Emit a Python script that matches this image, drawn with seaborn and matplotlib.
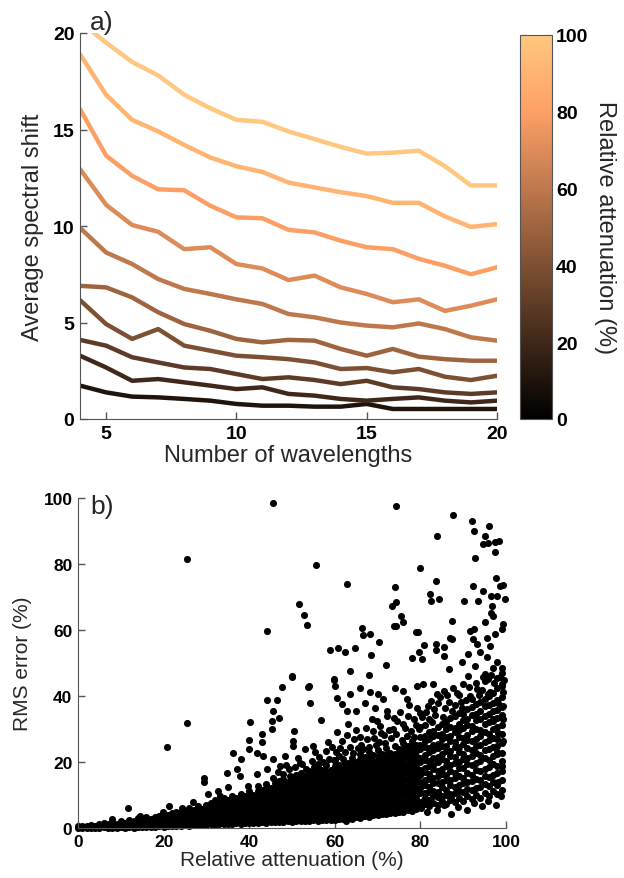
import numpy as np
import pandas as pd
import matplotlib
matplotlib.use("Agg")
import matplotlib.pyplot as plt
import seaborn as sns
from matplotlib.cm import ScalarMappable
from matplotlib.colors import Normalize

# ---- panel a) average spectral shift vs number of wavelengths ----
wavelengths = list(range(4, 21))
attenuation = [10, 20, 30, 40, 50, 60, 70, 80, 90, 100]
shift_10 = [1.73, 1.38, 1.16, 1.12, 1.04, 0.95, 0.78, 0.69, 0.69, 0.64, 0.64, 0.78, 0.52, 0.52, 0.52, 0.52, 0.52]
shift_20 = [3.28, 2.67, 1.98, 2.07, 1.9, 1.73, 1.55, 1.64, 1.3, 1.21, 1.04, 0.95, 1.04, 1.12, 0.95, 0.86, 0.95]
shift_30 = [4.1, 3.8, 3.2, 2.93, 2.67, 2.59, 2.33, 2.07, 2.16, 2.02, 1.81, 1.98, 1.64, 1.55, 1.38, 1.3, 1.38]
shift_40 = [6.16, 4.92, 4.15, 4.66, 3.8, 3.54, 3.28, 3.2, 3.1, 2.93, 2.59, 2.64, 2.42, 2.59, 2.19, 2.02, 2.24]
shift_50 = [6.9, 6.82, 6.3, 5.53, 4.92, 4.57, 4.15, 3.97, 4.1, 4.06, 3.63, 3.28, 3.63, 3.23, 3.1, 3.02, 3.02]
shift_60 = [9.9, 8.63, 8.03, 7.25, 6.74, 6.48, 6.2, 5.96, 5.44, 5.27, 5.0, 4.84, 4.75, 4.95, 4.66, 4.23, 4.06]
shift_70 = [12.95, 11.1, 10.05, 9.7, 8.8, 8.9, 8.03, 7.8, 7.2, 7.43, 6.82, 6.48, 6.05, 6.2, 5.6, 5.87, 6.2]
shift_80 = [16.06, 13.65, 12.6, 11.9, 11.85, 11.05, 10.45, 10.4, 9.8, 9.67, 9.24, 8.9, 8.8, 8.3, 7.94, 7.5, 7.86]
shift_90 = [18.9, 16.8, 15.5, 14.9, 14.2, 13.55, 13.1, 12.8, 12.25, 12.0, 11.75, 11.55, 11.2, 11.2, 10.5, 9.95, 10.1]
shift_100 = [20.6, 19.5, 18.5, 17.8, 16.8, 16.1, 15.5, 15.4, 14.9, 14.5, 14.1, 13.75, 13.8, 13.9, 13.1, 12.1, 12.1]
shifts = [shift_10, shift_20, shift_30, shift_40, shift_50,
          shift_60, shift_70, shift_80, shift_90, shift_100]

# ---- panel b) RMS error vs relative attenuation ----
outliers_high = [
    (45.6, 98.5), (25.5, 81.5), (55.6, 79.7), (44.2, 59.8), (51.6, 67.9), (52.8, 64.6), (53.5, 61.5), (50.1, 46.0),
    (74.3, 97.7), (87.5, 94.8), (92.1, 93.1), (96.0, 91.6), (92.6, 90.1), (95.2, 88.6), (83.8, 88.6), (94.7, 86.1),
    (95.9, 86.5), (97.4, 86.7), (98.4, 87.0), (97.4, 83.7), (92.8, 81.7), (79.9, 78.9), (62.8, 73.9), (83.6, 74.7),
    (74.1, 73.1), (97.6, 75.8), (92.2, 73.2), (94.7, 71.9), (98.6, 73.4), (99.2, 73.6), (82.2, 70.9), (82.4, 68.9),
    (84.3, 69.5), (90.3, 68.9), (93.5, 68.9), (96.5, 70.4), (97.8, 70.4), (99.8, 69.5), (73.3, 67.3), (74.3, 68.5),
    (75.5, 64.3), (76.0, 62.3), (73.8, 61.1), (74.2, 61.3), (87.3, 62.8), (96.7, 67.3), (96.4, 65.3), (96.9, 64.3),
    (95.2, 62.5), (99.4, 61.8), (99.0, 60.3), (66.3, 60.6), (66.6, 58.5), (68.2, 58.8), (70.4, 56.4), (78.9, 59.5),
    (79.4, 59.5), (80.8, 55.5), (83.6, 55.8), (85.4, 54.7), (86.8, 57.7), (87.4, 57.3), (91.6, 59.8), (92.5, 60.3),
    (92.4, 57.3), (93.3, 55.8), (95.6, 57.7), (97.4, 58.8), (96.3, 55.3), (58.9, 53.9), (60.7, 54.5), (62.3, 53.2),
    (64.8, 54.5), (68.5, 52.4), (72.0, 49.4), (63.6, 47.6), (67.9, 46.3), (49.9, 45.9), (59.9, 45.3), (78.1, 51.4),
    (80.4, 51.2), (79.6, 53.4), (83.6, 53.9), (85.4, 52.2), (86.6, 48.2), (89.7, 50.4), (91.2, 52.7), (93.9, 53.4),
    (95.5, 51.7), (97.8, 50.4), (99.0, 48.6), (99.0, 47.1), (97.0, 48.6), (91.2, 46.1), (95.1, 46.6), (92.8, 49.2),
]
outliers_mid = [
    (11.6, 6.1), (7.9, 2.7), (20.7, 24.6), (25.4, 31.7), (14.5, 3.7), (21.3, 6.7), (24.2, 6.2), (29.4, 15.3),
    (29.4, 13.8), (30.4, 10.3), (32.8, 11.3), (35.1, 12.3), (34.9, 16.8), (36.3, 22.6), (37.1, 17.9), (38.2, 20.9),
    (37.9, 15.8), (40.2, 32.0), (40.0, 26.7), (40.0, 23.9), (41.8, 22.7), (42.9, 26.0), (42.9, 28.5), (44.1, 38.9),
    (45.3, 30.0), (45.3, 32.5), (45.5, 35.5), (46.4, 38.9), (47.0, 33.2), (47.6, 42.6), (50.3, 26.4), (50.5, 29.4),
    (50.3, 24.9), (53.8, 42.6), (54.2, 38.0), (43.3, 21.9), (44.2, 17.9), (45.6, 20.9), (47.2, 18.8), (48.4, 21.9),
    (41.8, 16.4), (39.8, 12.8), (33.2, 9.8), (26.9, 7.8), (19.8, 4.7), (54.9, 24.9), (55.4, 22.9), (53.0, 23.9),
    (51.9, 19.8), (56.1, 19.4), (49.5, 15.8), (54.0, 42.9), (56.7, 32.7), (59.7, 44.9), (60.0, 43.1), (60.6, 39.5),
    (61.6, 37.6), (62.8, 35.5), (63.6, 40.6), (65.9, 42.3), (65.0, 35.5), (67.1, 38.0), (68.2, 41.1), (69.4, 36.5),
    (71.3, 39.2), (70.2, 40.6), (72.3, 35.5), (74.1, 42.3), (76.0, 41.6), (76.9, 39.1), (79.1, 43.1), (80.7, 43.6),
    (82.9, 43.6), (83.8, 40.6), (85.4, 41.6), (87.7, 42.3), (90.0, 43.6), (95.9, 45.2), (97.8, 45.6), (99.0, 43.6),
    (99.4, 41.1), (98.2, 38.0), (99.4, 37.0), (97.0, 33.0), (99.4, 33.0), (98.2, 28.9), (99.4, 26.4), (97.8, 22.9),
    (99.0, 18.9), (98.2, 13.8), (98.8, 9.8), (94.5, 6.8), (87.1, 4.2), (87.1, 9.2), (80.1, 6.2), (78.2, 5.8),
    (80.7, 8.3), (71.3, 4.7), (66.7, 3.7), (62.5, 2.2),
    (58.3, 26.2), (60.4, 29.1), (61.2, 24.3), (63.1, 31.4), (64.4, 27.0), (66.2, 25.3), (67.3, 30.2), (68.6, 33.1),
    (69.2, 27.4), (70.5, 31.0), (71.4, 28.3), (72.2, 34.0), (73.5, 30.1), (74.6, 32.4), (75.2, 35.3), (76.4, 30.2),
    (77.3, 37.2), (78.5, 33.1), (79.2, 36.3), (81.3, 35.2), (82.5, 38.6), (83.2, 36.1), (84.6, 39.8),
    (86.2, 40.2), (88.5, 40.8), (89.4, 38.2), (91.5, 40.1), (93.2, 42.0), (94.6, 45.8), (96.3, 41.2),
]
# loose points just above the dense band
band_fringe = [
    (45.5, 15.2), (46.8, 17.1), (47.9, 16.3), (48.6, 19.0), (49.3, 17.8), (50.8, 18.6), (51.5, 21.2), (52.4, 19.4),
    (53.3, 17.9), (54.6, 20.3), (55.1, 18.4), (56.4, 21.6), (57.2, 19.9), (57.9, 23.4), (58.7, 21.0), (59.3, 24.5),
    (59.8, 20.6), (60.2, 23.1), (60.9, 21.8), (61.7, 26.4), (62.3, 23.0), (62.9, 28.2), (63.6, 24.6), (64.2, 22.8),
    (64.9, 29.8), (65.4, 24.2), (65.8, 27.6), (66.7, 23.8), (67.5, 26.9), (68.1, 24.4), (68.9, 29.3), (69.6, 25.2),
    (69.9, 32.4), (70.3, 26.0), (70.9, 28.9), (71.8, 25.7), (72.6, 29.6), (73.1, 27.2), (73.9, 33.4), (74.3, 28.4),
    (75.7, 26.8), (75.9, 31.6), (76.8, 28.0), (77.2, 33.9), (77.8, 29.5), (78.4, 27.6), (78.9, 31.3), (79.6, 29.9),
    (79.8, 34.8), (80.4, 33.6), (81.1, 31.2), (81.8, 36.9), (82.7, 32.1), (83.5, 34.3), (84.1, 37.9), (85.3, 33.5),
    (85.8, 36.3), (86.6, 38.3), (87.4, 35.6), (88.2, 37.2), (89.1, 40.3), (89.8, 36.4), (90.6, 38.9), (91.3, 42.6),
    (92.1, 39.1), (92.9, 44.0), (93.6, 40.4), (94.3, 41.7), (95.2, 44.6), (95.8, 40.6), (96.6, 46.5), (97.3, 43.8),
    (98.5, 45.9), (99.6, 45.0),
    (81.5, 4.9), (83.9, 5.6), (85.6, 6.9), (88.9, 6.3), (90.8, 5.4), (92.6, 7.7), (95.7, 8.1), (97.6, 6.9),
]
# dense band, one column per percent of attenuation
band_00_20 = [
    (0, "0 .5"), (1, "0 .6"), (2, ".1 .7"), (3, "0 .5 1.0"), (4, ".1 .6"),
    (5, "0 .6 1.1"), (6, ".2 .8 1.4"), (7, "0 .6 1.2"), (8, ".1 .7 1.3 1.8"), (9, "0 .6 1.2"),
    (10, ".2 .9 1.6 2.2"), (11, ".1 .8 1.5"), (12, ".3 1.0 1.7 2.4"), (13, ".1 .8 1.5 2.1"),
    (14, ".2 .9 1.6 2.3 3.0"), (15, ".3 1.0 1.8 2.5"), (16, ".2 .9 1.7 2.4 3.2"), (17, ".4 1.1 1.9 2.6"),
    (18, ".3 1.0 1.8 2.6 3.4"), (19, ".5 1.2 2.0 2.8 3.6"),
]
band_20_40 = [
    (20, ".4 1.1 1.9 2.7 3.5 4.3"), (21, ".6 1.4 2.2 3.0 3.8"), (22, ".5 1.3 2.1 2.9 3.7 4.5"),
    (23, ".7 1.5 2.3 3.1 3.9 4.8"), (24, ".6 1.4 2.3 3.2 4.1 5.0"), (25, ".8 1.6 2.5 3.4 4.3 5.2"),
    (26, ".7 1.6 2.5 3.4 4.3 5.2 6.1"), (27, ".9 1.8 2.7 3.6 4.5 5.5"), (28, ".8 1.7 2.7 3.7 4.7 5.7 6.6"),
    (29, "1.0 1.9 2.9 3.9 4.9 5.9"), (30, ".9 1.9 2.9 3.9 4.9 6.0 7.1"), (31, "1.1 2.1 3.2 4.3 5.4 6.5 7.5"),
    (32, "1.0 2.0 3.1 4.2 5.3 6.4 7.6 8.4"), (33, "1.2 2.3 3.4 4.5 5.6 6.8 7.9"),
    (34, "1.1 2.2 3.4 4.6 5.8 7.0 8.2 9.0"), (35, "1.3 2.5 3.7 4.9 6.1 7.3 8.5"),
    (36, "1.2 2.4 3.7 5.0 6.3 7.6 8.9 9.8"), (37, "1.4 2.7 4.0 5.3 6.6 7.9 9.2"),
    (38, "1.3 2.6 3.9 5.2 6.5 7.8 9.1 10.4"), (39, "1.5 2.8 4.2 5.6 7.0 8.4 9.8"),
]
band_40_60 = [
    (40, "1.4 2.8 4.2 5.6 7.0 8.4 9.8 11.2"), (41, "1.6 3.0 4.4 5.8 7.2 8.6 10.0"),
    (42, "1.5 2.9 4.3 5.7 7.1 8.5 9.9 11.3 12.6"), (43, "1.7 3.1 4.5 5.9 7.3 8.7 10.1 11.6"),
    (44, "1.6 3.0 4.5 6.0 7.5 9.0 10.5 12.0 13.3"), (45, "1.8 3.2 4.7 6.2 7.7 9.2 10.7 12.2"),
    (46, "1.7 3.2 4.7 6.2 7.7 9.2 10.7 12.2 13.7"), (47, "1.9 3.4 4.9 6.4 7.9 9.4 10.9 12.4 14.2"),
    (48, "1.8 3.3 4.8 6.3 7.8 9.3 10.8 12.3 13.8 15.0"), (49, "2.0 3.5 5.0 6.5 8.0 9.5 11.0 12.5 14.0"),
    (50, "1.9 3.4 4.9 6.4 7.9 9.4 10.9 12.4 13.9 15.4"), (51, "2.1 3.6 5.1 6.6 8.1 9.6 11.1 12.6 14.1 16.0"),
    (52, "2.0 3.5 5.0 6.5 8.0 9.5 11.0 12.5 14.0 15.5 16.6"), (53, "2.2 3.7 5.2 6.7 8.2 9.7 11.2 12.7 14.2 15.7"),
    (54, "2.1 3.6 5.1 6.6 8.1 9.6 11.1 12.6 14.1 15.6 17.2"), (55, "2.3 3.8 5.3 6.8 8.3 9.8 11.3 12.8 14.3 15.8 17.0"),
    (56, "2.2 3.7 5.2 6.7 8.2 9.7 11.2 12.7 14.2 15.7 17.2 18.5"),
    (57, "2.4 3.9 5.4 6.9 8.4 9.9 11.4 12.9 14.4 15.9 17.6"),
    (58, "2.3 3.8 5.3 6.8 8.3 9.8 11.3 12.8 14.3 15.8 17.3 19.0"),
    (59, "2.5 4.0 5.5 7.0 8.5 10.0 11.5 13.0 14.5 16.0 17.5"),
]
band_60_80 = [
    (60, "2.4 3.9 5.4 6.9 8.4 9.9 11.4 12.9 14.4 15.9 17.4 18.9 20.5"),
    (61, "2.7 4.2 5.7 7.2 8.7 10.2 11.7 13.2 14.7 16.2 17.7 19.2"),
    (62, "2.6 4.1 5.6 7.1 8.6 10.1 11.6 13.1 14.6 16.1 17.6 19.1 20.8"),
    (63, "2.9 4.4 5.9 7.4 8.9 10.4 11.9 13.4 14.9 16.4 17.9 19.6"),
    (64, "2.8 4.3 5.8 7.3 8.8 10.3 11.8 13.3 14.8 16.3 17.8 19.3 21.2"),
    (65, "3.2 4.7 6.2 7.7 9.2 10.7 12.2 13.7 15.2 16.7 18.2 19.9"),
    (66, "3.0 4.5 6.0 7.5 9.0 10.5 12.0 13.5 15.0 16.5 18.0 19.5 21.0 22.4"),
    (67, "3.5 5.0 6.5 8.0 9.5 11.0 12.5 14.0 15.5 17.0 18.5 20.0 21.6"),
    (68, "3.3 4.8 6.3 7.8 9.3 10.8 12.3 13.8 15.3 16.8 18.3 19.8 21.3 23.0"),
    (69, "3.8 5.3 6.8 8.3 9.8 11.3 12.8 14.3 15.8 17.3 18.8 20.3 22.0"),
    (70, "3.9 5.4 6.9 8.4 9.9 11.4 12.9 14.4 15.9 17.4 18.9 20.4 21.9 23.6"),
    (71, "4.3 5.8 7.3 8.8 10.3 11.8 13.3 14.8 16.3 17.8 19.3 20.8 22.5"),
    (72, "4.2 5.7 7.2 8.7 10.2 11.7 13.2 14.7 16.2 17.7 19.2 20.7 22.2 24.2"),
    (73, "4.6 6.1 7.6 9.1 10.6 12.1 13.6 15.1 16.6 18.1 19.6 21.1 22.8"),
    (74, "4.5 6.0 7.5 9.0 10.5 12.0 13.5 15.0 16.5 18.0 19.5 21.0 22.5 24.8"),
    (75, "5.0 6.6 8.2 9.8 11.4 13.0 14.6 16.2 17.8 19.4 21.0 22.6 24.0"),
    (76, "4.8 6.4 8.0 9.6 11.2 12.8 14.4 16.0 17.6 19.2 20.8 22.4 24.0 25.8"),
    (77, "5.4 7.0 8.6 10.2 11.8 13.4 15.0 16.6 18.2 19.8 21.4 23.0 24.8"),
    (78, "5.2 6.8 8.4 10.0 11.6 13.2 14.8 16.4 18.0 19.6 21.2 22.8 24.4 26.5"),
    (79, "5.8 7.4 9.0 10.6 12.2 13.8 15.4 17.0 18.6 20.2 21.8 23.4 25.2"),
]
band_80_100 = [
    (80, "6.4 8.0 10.5 12.1 13.8 16.2 17.6 19.9 21.3 23.8 25.1 27.6 30.5"),
    (81, "7.2 9.1 10.6 13.0 14.4 16.9 18.2 20.6 22.0 24.5 26.3 28.0"),
    (82, "6.7 8.4 10.9 12.3 14.9 16.4 18.9 20.2 22.9 24.3 26.9 29.1 33.0"),
    (83, "7.5 9.8 11.2 13.6 15.1 17.8 19.2 21.1 23.6 25.2 27.8 29.4"),
    (84, "6.9 9.3 11.0 13.5 15.8 17.2 19.9 21.5 24.2 25.6 28.3 30.6"),
    (85, "8.1 9.7 12.4 13.9 16.5 18.0 20.8 22.3 24.9 27.1 28.6 31.4"),
    (86, "7.4 10.0 11.6 14.4 16.0 18.7 20.3 23.2 24.7 27.6 29.9 32.1"),
    (87, "8.6 10.3 12.9 14.6 17.4 19.1 21.9 23.4 26.3 27.9 30.6 33.2"),
    (88, "7.9 10.7 12.3 15.2 16.8 19.8 21.4 24.5 26.0 29.0 30.4 33.9"),
    (89, "9.0 11.3 13.1 15.9 18.3 20.0 23.0 24.6 27.5 29.8 31.5 35.0"),
    (90, "8.2 11.0 13.6 15.3 18.2 20.9 22.5 25.6 27.2 30.3 32.8 34.5"),
    (91, "9.6 11.9 14.0 16.8 19.3 21.2 24.1 26.6 28.2 31.2 33.0 36.1"),
    (92, "8.7 11.5 14.3 16.1 19.0 21.8 23.6 26.5 29.3 31.0 34.1 36.8"),
    (93, "10.1 12.2 15.0 17.6 19.7 22.6 25.0 27.1 30.0 32.6 34.6 37.5"),
    (94, "9.2 12.4 14.4 17.3 20.3 22.1 25.3 28.0 29.7 33.1 35.5 38.3"),
    (95, "10.6 13.3 15.8 18.0 21.2 23.6 26.0 29.2 31.4 33.8 36.9 39.0"),
    (96, "9.7 12.8 15.4 18.6 20.6 23.9 26.7 28.4 32.0 34.5 37.2 40.1"),
    (97, "11.2 13.9 16.2 19.4 21.8 24.5 27.4 30.1 32.5 35.6 38.0 41.0"),
    (98, "10.2 13.1 16.6 18.9 22.3 24.8 27.0 30.7 33.3 35.9 38.9 42.3"),
    (99, "11.6 14.5 17.3 20.3 22.7 25.9 28.5 31.3 34.3 36.8 39.6 43.0"),
]

# ---- build tables ----
rows = []
for att, ys in zip(attenuation, shifts):
    for w, s in zip(wavelengths, ys):
        rows.append((w, s, att))
df_a = pd.DataFrame(rows, columns=["wavelengths", "shift", "attenuation"])

pts = list(outliers_high) + list(outliers_mid) + list(band_fringe)
for band in (band_00_20, band_20_40, band_40_60, band_60_80, band_80_100):
    for x, ys in band:
        for y in ys.split():
            pts.append((x, float(y)))
df_b = pd.DataFrame(pts, columns=["att", "rms"])

# ---- style ----
sns.set_style("ticks")
plt.rcParams['font.family'] = ['Liberation Sans', 'DejaVu Sans']
plt.rcParams['axes.edgecolor'] = '#555555'
plt.rcParams['xtick.color'] = '#555555'
plt.rcParams['ytick.color'] = '#555555'
plt.rcParams['xtick.labelcolor'] = 'black'
plt.rcParams['ytick.labelcolor'] = 'black'

W, H = 624, 879
fig = plt.figure(figsize=(W / 100, H / 100), dpi=100)

def box(l, t, r, b):
    return [l / W, 1 - b / H, (r - l) / W, (b - t) / H]

ax1 = fig.add_axes(box(80, 34, 497, 420))
cax = fig.add_axes(box(520, 36, 552, 420))
ax2 = fig.add_axes(box(78, 499, 506, 829))

norm = Normalize(0, 100)
sns.lineplot(data=df_a, x="wavelengths", y="shift", hue="attenuation", palette="copper",
             hue_norm=norm, legend=False, linewidth=3.2, ax=ax1)
ax1.set_xlim(4, 20)
ax1.set_ylim(0, 20)
ax1.set_xticks([5, 10, 15, 20])
ax1.set_yticks([0, 5, 10, 15, 20])
ax1.set_xlabel("Number of wavelengths", fontsize=17, labelpad=2)
ax1.set_ylabel("Average spectral shift", fontsize=17, labelpad=6)

cb = fig.colorbar(ScalarMappable(norm=norm, cmap="copper"), cax=cax)
cb.set_ticks([0, 20, 40, 60, 80, 100])
cb.outline.set_edgecolor('#555555')
cax.tick_params(direction='in', left=True, right=True, length=4, labelsize=14, pad=3)
cb.set_label("Relative attenuation (%)", fontsize=17, rotation=270, labelpad=20)

sns.scatterplot(data=df_b, x="att", y="rms", color="black", s=26, linewidth=0,
                ax=ax2, clip_on=False)
ax2.set_xlim(0, 100)
ax2.set_ylim(0, 100)
ax2.set_xticks(range(0, 101, 20))
ax2.set_yticks(range(0, 101, 20))
ax2.set_xlabel("Relative attenuation (%)", fontsize=15, labelpad=1)
ax2.set_ylabel("RMS error (%)", fontsize=15, labelpad=8)

for ax, ls in ((ax1, 14), (ax2, 12.5)):
    sns.despine(ax=ax)
    ax.tick_params(direction='in', length=5, width=1, labelsize=ls, pad=4)
for ax in (ax1, ax2, cax):
    for lab in ax.get_xticklabels() + ax.get_yticklabels():
        lab.set_fontweight('bold')

fig.text(90 / W, 1 - 23 / H, "a)", fontsize=19, va='center', ha='left')
fig.text(90 / W, 1 - 507 / H, "b)", fontsize=19, va='center', ha='left')

fig.savefig("out.png", dpi=100)
